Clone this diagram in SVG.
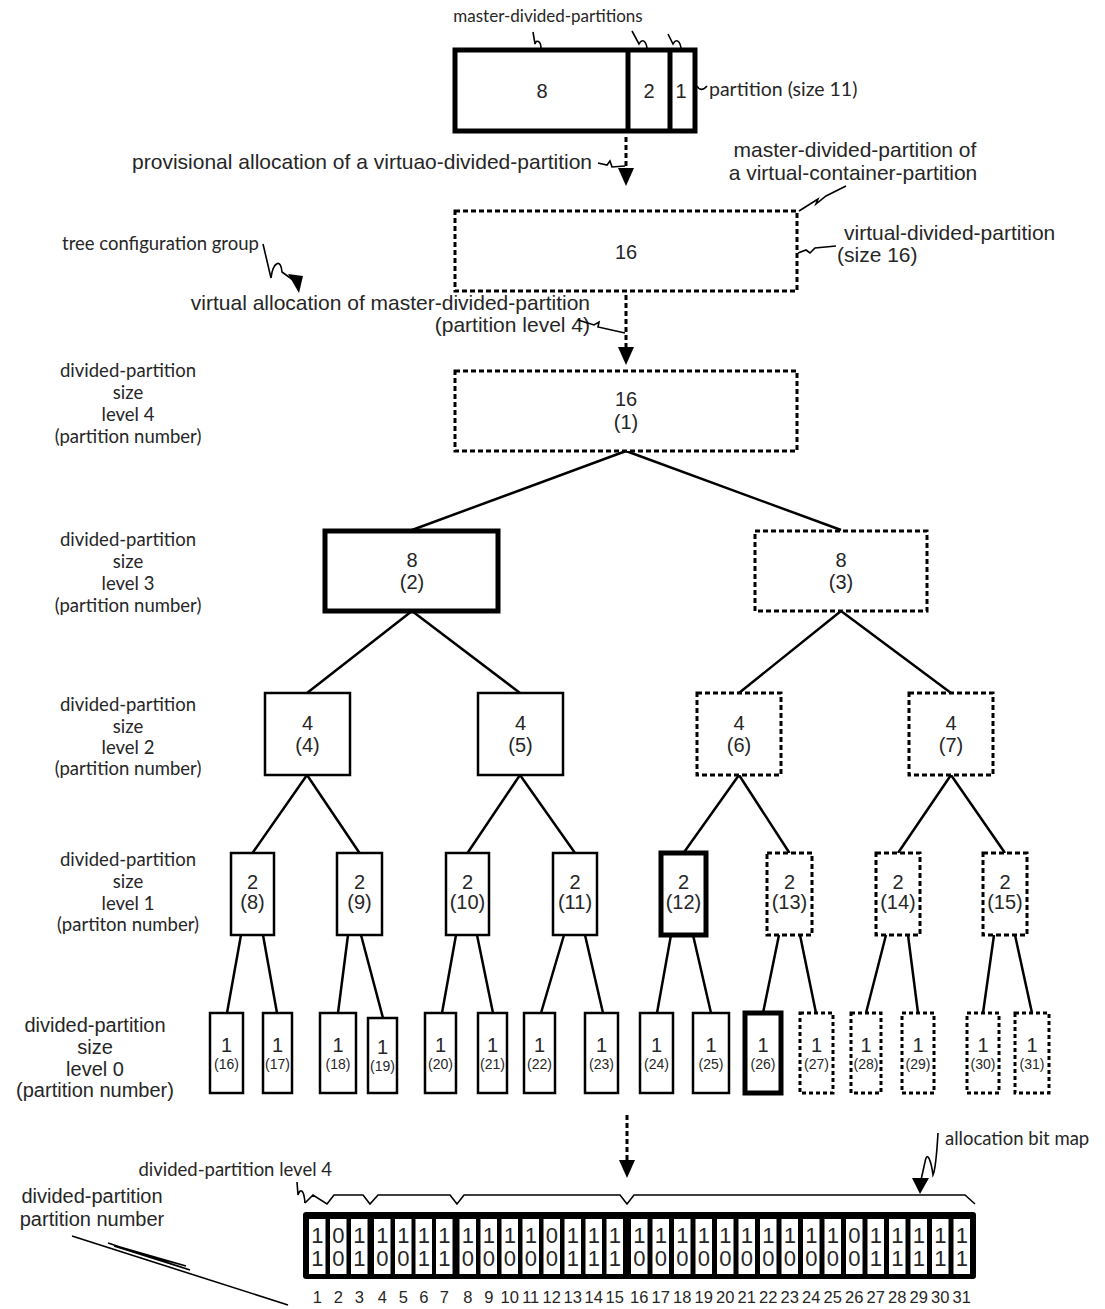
<svg xmlns="http://www.w3.org/2000/svg" width="1105" height="1309" viewBox="0 0 1105 1309">
<style>
.n{fill:#fff;stroke:#000;stroke-width:2.5}
.tk{stroke-width:5}
.ds{stroke-dasharray:5 3;stroke-width:3}
.ds0{stroke-dasharray:4 3;stroke-width:3}
.e{stroke:#000;stroke-width:2.5;fill:none}
.da{stroke:#000;stroke-width:3;stroke-dasharray:5 3;fill:none}
.sq{stroke:#000;stroke-width:1.6;fill:none}
.a{font-family:"Liberation Sans",Arial,sans-serif;fill:#262626}
.c{font-family:Lato,"Liberation Sans",sans-serif;fill:#262626}
.m{text-anchor:middle}
.r{text-anchor:end}
.f21{font-size:21px}
.f20{font-size:20px}
.f14{font-size:14px}
.lab{font-size:18.5px}
.bit{font-size:22px}
.num{font-size:16.5px}
</style>
<rect width="1105" height="1309" fill="#fff"/>

<!-- top partition -->
<g id="partition">
<rect x="455" y="50" width="240" height="81" fill="#fff" stroke="#000" stroke-width="5"/>
<line x1="628" y1="50" x2="628" y2="131" stroke="#000" stroke-width="5"/>
<line x1="670" y1="50" x2="670" y2="131" stroke="#000" stroke-width="5"/>
<text class="a f20 m" x="542" y="98">8</text>
<text class="a f20 m" x="649" y="98">2</text>
<text class="a f20 m" x="681" y="98">1</text>
</g>
<g id="labels-top">
<text class="c m" font-size="17" x="548" y="22">master-divided-partitions</text>
<path class="sq" d="M541 48 C541 41 536 39 535 44 L533 32"/>
<path class="sq" d="M647 48 C646 41 642 38 639 44 L632 31"/>
<path class="sq" d="M681 48 C680 41 676 38 673 44 L668 34"/>
<text class="c" font-size="19.5" x="709" y="96">partition (size 11)</text>
<path class="sq" d="M697 86 C699 90 703 91 707 86"/>
<text class="a f21 r" x="592" y="169">provisional allocation of a virtuao-divided-partition</text>
<path class="sq" d="M598 163 L607 165 L610 161 L612 167 L625 166"/>
<text class="a f21 m" x="855" y="157">master-divided-partition of</text>
<text class="a f21 m" x="853" y="180">a virtual-container-partition</text>
<path class="sq" d="M799 211 L818 199 L816 204 L826 196 L846 186"/>
<text class="a f21" x="844" y="240">virtual-divided-partition</text>
<text class="a f21" x="837" y="262">(size 16)</text>
<path class="sq" d="M798 253 L806 250 L810 253 L815 248 L836 246"/>
<text class="c lab" x="62" y="250">tree configuration group</text>
<path class="sq" d="M263 244 L271 278 C273 262 281 258 282 272 L293 280"/>
<polygon points="288,274 303,276 299,293"/>
<text class="a f21 r" x="590" y="310">virtual allocation of master-divided-partition</text>
<text class="a f21 r" x="590" y="332">(partition level 4)</text>
<path class="sq" d="M578 320 L594 325 L599 322 L598 327 L625 333"/>
</g>

<!-- level labels -->
<g id="level-labels">
<text class="c lab m" x="128" y="377">divided-partition</text>
<text class="c lab m" x="128" y="399">size</text>
<text class="c lab m" x="128" y="421">level 4</text>
<text class="c lab m" x="128" y="443">(partition number)</text>
<text class="c lab m" x="128" y="546">divided-partition</text>
<text class="c lab m" x="128" y="568">size</text>
<text class="c lab m" x="128" y="590">level 3</text>
<text class="c lab m" x="128" y="612">(partition number)</text>
<text class="c lab m" x="128" y="711">divided-partition</text>
<text class="c lab m" x="128" y="733">size</text>
<text class="c lab m" x="128" y="754">level 2</text>
<text class="c lab m" x="128" y="775">(partition number)</text>
<text class="c lab m" x="128" y="866">divided-partition</text>
<text class="c lab m" x="128" y="888">size</text>
<text class="c lab m" x="128" y="910">level 1</text>
<text class="c lab m" x="128" y="931">(partiton number)</text>
<text class="a f20 m" x="95" y="1032">divided-partition</text>
<text class="a f20 m" x="95" y="1054">size</text>
<text class="a f20 m" x="95" y="1076">level 0</text>
<text class="a f20 m" x="95" y="1097">(partition number)</text>
</g>

<!-- connectors -->
<g id="connectors">
<line class="da" x1="626" y1="137" x2="626" y2="168"/>
<polygon points="618,168 634,168 626,186"/>
<line class="da" x1="626" y1="295" x2="626" y2="347"/>
<polygon points="618,347 634,347 626,365"/>
<line class="da" x1="627" y1="1115" x2="627" y2="1160"/>
<polygon points="619,1160 635,1160 627,1178"/>
<path class="e" d="M626 451 L412 530 M626 451 L841 530"/>
<path class="e" d="M412 611 L307 693 M412 611 L520 693 M841 611 L739 693 M841 611 L951 693"/>
<path class="e" d="M307 775 L252.5 853 M307 775 L359.5 853 M520 775 L467.5 853 M520 775 L575 853 M739 775 L683.5 853 M739 775 L789.5 853 M951 775 L898 853 M951 775 L1005 853"/>
<path class="e" d="M241 935 L227 1013 M263 935 L277 1013 M348 935 L338 1013 M361 935 L383 1018 M456 935 L442 1013 M477 935 L493 1013 M564 935 L541 1013 M585 935 L603 1013 M671 935 L657 1013 M693 935 L711 1013 M779 935 L763 1013 M800 935 L816 1013 M886 935 L866 1013 M908 935 L918 1013 M994 935 L983 1013 M1015 935 L1032 1013"/>
</g>

<!-- virtual nodes -->
<g id="virtual-16">
<rect class="n ds" x="455" y="211" width="342" height="80"/>
<text class="a f20 m" x="626" y="259">16</text>
</g>
<g id="n1">
<rect class="n ds" x="455" y="371" width="342" height="80"/>
<text class="a f20 m" x="626" y="406">16</text>
<text class="a f20 m" x="626" y="429">(1)</text>
</g>
<g id="n2">
<rect class="n tk" x="325" y="531" width="173" height="80"/>
<text class="a f20 m" x="412" y="567">8</text>
<text class="a f20 m" x="412" y="589">(2)</text>
</g>
<g id="n3">
<rect class="n ds" x="755" y="531" width="172" height="80"/>
<text class="a f20 m" x="841" y="567">8</text>
<text class="a f20 m" x="841" y="589">(3)</text>
</g>
<g id="n4"><rect class="n" x="265" y="693" width="85" height="82"/><text class="a f20 m" x="307.5" y="730">4</text><text class="a f20 m" x="307.5" y="752">(4)</text></g>
<g id="n5"><rect class="n" x="478" y="693" width="85" height="82"/><text class="a f20 m" x="520.5" y="730">4</text><text class="a f20 m" x="520.5" y="752">(5)</text></g>
<g id="n6"><rect class="n ds" x="697" y="693" width="84" height="82"/><text class="a f20 m" x="739" y="730">4</text><text class="a f20 m" x="739" y="752">(6)</text></g>
<g id="n7"><rect class="n ds" x="909" y="693" width="84" height="82"/><text class="a f20 m" x="951" y="730">4</text><text class="a f20 m" x="951" y="752">(7)</text></g>

<g id="n8"><rect class="n" x="231" y="853" width="43" height="82"/><text class="a f20 m" x="252.5" y="889">2</text><text class="a f20 m" x="252.5" y="909">(8)</text></g>
<g id="n9"><rect class="n" x="337" y="853" width="45" height="82"/><text class="a f20 m" x="359.5" y="889">2</text><text class="a f20 m" x="359.5" y="909">(9)</text></g>
<g id="n10"><rect class="n" x="446" y="853" width="43" height="82"/><text class="a f20 m" x="467.5" y="889">2</text><text class="a f20 m" x="467.5" y="909">(10)</text></g>
<g id="n11"><rect class="n" x="553" y="853" width="44" height="82"/><text class="a f20 m" x="575" y="889">2</text><text class="a f20 m" x="575" y="909">(11)</text></g>
<g id="n12"><rect class="n tk" x="661" y="853" width="45" height="82"/><text class="a f20 m" x="683.5" y="889">2</text><text class="a f20 m" x="683.5" y="909">(12)</text></g>
<g id="n13"><rect class="n ds" x="767" y="853" width="45" height="82"/><text class="a f20 m" x="789.5" y="889">2</text><text class="a f20 m" x="789.5" y="909">(13)</text></g>
<g id="n14"><rect class="n ds" x="876" y="853" width="44" height="82"/><text class="a f20 m" x="898" y="889">2</text><text class="a f20 m" x="898" y="909">(14)</text></g>
<g id="n15"><rect class="n ds" x="983" y="853" width="44" height="82"/><text class="a f20 m" x="1005" y="889">2</text><text class="a f20 m" x="1005" y="909">(15)</text></g>

<g id="n16"><rect class="n" x="210" y="1013" width="33" height="80"/><text class="a f20 m" x="226.5" y="1052">1</text><text class="a f14 m" x="226.5" y="1069">(16)</text></g>
<g id="n17"><rect class="n" x="263" y="1013" width="29" height="80"/><text class="a f20 m" x="277.5" y="1052">1</text><text class="a f14 m" x="277.5" y="1069">(17)</text></g>
<g id="n18"><rect class="n" x="320" y="1013" width="36" height="80"/><text class="a f20 m" x="338" y="1052">1</text><text class="a f14 m" x="338" y="1069">(18)</text></g>
<g id="n19"><rect class="n" x="368" y="1018" width="29" height="75"/><text class="a f20 m" x="382.5" y="1054">1</text><text class="a f14 m" x="382.5" y="1071">(19)</text></g>
<g id="n20"><rect class="n" x="425" y="1013" width="31" height="80"/><text class="a f20 m" x="440.5" y="1052">1</text><text class="a f14 m" x="440.5" y="1069">(20)</text></g>
<g id="n21"><rect class="n" x="478" y="1013" width="29" height="80"/><text class="a f20 m" x="492.5" y="1052">1</text><text class="a f14 m" x="492.5" y="1069">(21)</text></g>
<g id="n22"><rect class="n" x="524" y="1013" width="31" height="80"/><text class="a f20 m" x="539.5" y="1052">1</text><text class="a f14 m" x="539.5" y="1069">(22)</text></g>
<g id="n23"><rect class="n" x="585" y="1013" width="33" height="80"/><text class="a f20 m" x="601.5" y="1052">1</text><text class="a f14 m" x="601.5" y="1069">(23)</text></g>
<g id="n24"><rect class="n" x="640" y="1013" width="33" height="80"/><text class="a f20 m" x="656.5" y="1052">1</text><text class="a f14 m" x="656.5" y="1069">(24)</text></g>
<g id="n25"><rect class="n" x="693" y="1013" width="36" height="80"/><text class="a f20 m" x="711" y="1052">1</text><text class="a f14 m" x="711" y="1069">(25)</text></g>
<g id="n26"><rect class="n tk" x="745" y="1013" width="36" height="80"/><text class="a f20 m" x="763" y="1052">1</text><text class="a f14 m" x="763" y="1069">(26)</text></g>
<g id="n27"><rect class="n ds0" x="800" y="1013" width="33" height="80"/><text class="a f20 m" x="816.5" y="1052">1</text><text class="a f14 m" x="816.5" y="1069">(27)</text></g>
<g id="n28"><rect class="n ds0" x="851" y="1013" width="30" height="80"/><text class="a f20 m" x="866" y="1052">1</text><text class="a f14 m" x="866" y="1069">(28)</text></g>
<g id="n29"><rect class="n ds0" x="902" y="1013" width="32" height="80"/><text class="a f20 m" x="918" y="1052">1</text><text class="a f14 m" x="918" y="1069">(29)</text></g>
<g id="n30"><rect class="n ds0" x="967" y="1013" width="32" height="80"/><text class="a f20 m" x="983" y="1052">1</text><text class="a f14 m" x="983" y="1069">(30)</text></g>
<g id="n31"><rect class="n ds0" x="1015" y="1013" width="34" height="80"/><text class="a f20 m" x="1032" y="1052">1</text><text class="a f14 m" x="1032" y="1069">(31)</text></g>

<!-- bitmap labels -->
<g id="bitmap-labels">
<text class="c lab" x="945" y="1145">allocation bit map</text>
<path class="sq" d="M938 1133 C937 1150 936 1168 933 1175 C931 1160 927 1150 925 1162 L921 1180"/>
<polygon points="912,1178 929,1178 920,1194"/>
<text class="c lab r" x="332" y="1176">divided-partition level 4</text>
<path class="sq" d="M297 1182 L298 1195 C300 1188 304 1189 305 1203"/>
<path class="sq" stroke-width="2" d="M305 1203 L313 1195 L327 1204 L334 1195 L363 1195 L370 1204 L378 1195 L450 1195 L457 1204 L464 1195 L620 1195 L627 1204 L634 1195 L965 1195 L975 1204"/>
<text class="a f20 m" x="92" y="1203">divided-partition</text>
<text class="a f20 m" x="92" y="1226">partition number</text>
<path class="sq" d="M72 1236 L288 1305"/>
<path class="sq" d="M108 1243 L190 1270 L114 1246 L186 1266 L120 1247"/>
</g>

<!-- bitmap -->
<g id="bitmap">
<rect x="303" y="1212" width="673" height="67" rx="3" fill="#000"/>
<g fill="#fff">
<rect x="309" y="1219" width="16.5" height="55"/>
<rect x="330" y="1219" width="16.5" height="55"/>
<rect x="351" y="1219" width="16.5" height="55"/>
<rect x="374" y="1219" width="16.5" height="55"/>
<rect x="395" y="1219" width="16.5" height="55"/>
<rect x="415.5" y="1219" width="16.5" height="55"/>
<rect x="436" y="1219" width="16.5" height="55"/>
<rect x="459.5" y="1219" width="16.5" height="55"/>
<rect x="480.5" y="1219" width="16.5" height="55"/>
<rect x="501.5" y="1219" width="16.5" height="55"/>
<rect x="522.5" y="1219" width="16.5" height="55"/>
<rect x="543.5" y="1219" width="16.5" height="55"/>
<rect x="564.5" y="1219" width="16.5" height="55"/>
<rect x="585.5" y="1219" width="16.5" height="55"/>
<rect x="606.5" y="1219" width="16.5" height="55"/>
<rect x="631" y="1219" width="16.5" height="55"/>
<rect x="652.5" y="1219" width="16.5" height="55"/>
<rect x="674" y="1219" width="16.5" height="55"/>
<rect x="695.5" y="1219" width="16.5" height="55"/>
<rect x="717" y="1219" width="16.5" height="55"/>
<rect x="738.5" y="1219" width="16.5" height="55"/>
<rect x="760" y="1219" width="16.5" height="55"/>
<rect x="781.5" y="1219" width="16.5" height="55"/>
<rect x="803" y="1219" width="16.5" height="55"/>
<rect x="824.5" y="1219" width="16.5" height="55"/>
<rect x="846" y="1219" width="16.5" height="55"/>
<rect x="867.5" y="1219" width="16.5" height="55"/>
<rect x="889" y="1219" width="16.5" height="55"/>
<rect x="910.5" y="1219" width="16.5" height="55"/>
<rect x="932" y="1219" width="16.5" height="55"/>
<rect x="953.5" y="1219" width="16.5" height="55"/>
</g>
<text class="a bit m"><tspan x="317.25" y="1243">1</tspan><tspan x="338.25" y="1243">0</tspan><tspan x="359.25" y="1243">1</tspan><tspan x="382.25" y="1243">1</tspan><tspan x="403.25" y="1243">1</tspan><tspan x="423.75" y="1243">1</tspan><tspan x="444.25" y="1243">1</tspan><tspan x="467.75" y="1243">1</tspan><tspan x="488.75" y="1243">1</tspan><tspan x="509.75" y="1243">1</tspan><tspan x="530.75" y="1243">1</tspan><tspan x="551.75" y="1243">0</tspan><tspan x="572.75" y="1243">1</tspan><tspan x="593.75" y="1243">1</tspan><tspan x="614.75" y="1243">1</tspan><tspan x="639.25" y="1243">1</tspan><tspan x="660.75" y="1243">1</tspan><tspan x="682.25" y="1243">1</tspan><tspan x="703.75" y="1243">1</tspan><tspan x="725.25" y="1243">1</tspan><tspan x="746.75" y="1243">1</tspan><tspan x="768.25" y="1243">1</tspan><tspan x="789.75" y="1243">1</tspan><tspan x="811.25" y="1243">1</tspan><tspan x="832.75" y="1243">1</tspan><tspan x="854.25" y="1243">0</tspan><tspan x="875.75" y="1243">1</tspan><tspan x="897.25" y="1243">1</tspan><tspan x="918.75" y="1243">1</tspan><tspan x="940.25" y="1243">1</tspan><tspan x="961.75" y="1243">1</tspan></text>
<text class="a bit m"><tspan x="317.25" y="1266">1</tspan><tspan x="338.25" y="1266">0</tspan><tspan x="359.25" y="1266">1</tspan><tspan x="382.25" y="1266">0</tspan><tspan x="403.25" y="1266">0</tspan><tspan x="423.75" y="1266">1</tspan><tspan x="444.25" y="1266">1</tspan><tspan x="467.75" y="1266">0</tspan><tspan x="488.75" y="1266">0</tspan><tspan x="509.75" y="1266">0</tspan><tspan x="530.75" y="1266">0</tspan><tspan x="551.75" y="1266">0</tspan><tspan x="572.75" y="1266">1</tspan><tspan x="593.75" y="1266">1</tspan><tspan x="614.75" y="1266">1</tspan><tspan x="639.25" y="1266">0</tspan><tspan x="660.75" y="1266">0</tspan><tspan x="682.25" y="1266">0</tspan><tspan x="703.75" y="1266">0</tspan><tspan x="725.25" y="1266">0</tspan><tspan x="746.75" y="1266">0</tspan><tspan x="768.25" y="1266">0</tspan><tspan x="789.75" y="1266">0</tspan><tspan x="811.25" y="1266">0</tspan><tspan x="832.75" y="1266">0</tspan><tspan x="854.25" y="1266">0</tspan><tspan x="875.75" y="1266">1</tspan><tspan x="897.25" y="1266">1</tspan><tspan x="918.75" y="1266">1</tspan><tspan x="940.25" y="1266">1</tspan><tspan x="961.75" y="1266">1</tspan></text>
<text class="a num m"><tspan x="317.25" y="1303">1</tspan><tspan x="338.25" y="1303">2</tspan><tspan x="359.25" y="1303">3</tspan><tspan x="382.25" y="1303">4</tspan><tspan x="403.25" y="1303">5</tspan><tspan x="423.75" y="1303">6</tspan><tspan x="444.25" y="1303">7</tspan><tspan x="467.75" y="1303">8</tspan><tspan x="488.75" y="1303">9</tspan><tspan x="509.75" y="1303">10</tspan><tspan x="530.75" y="1303">11</tspan><tspan x="551.75" y="1303">12</tspan><tspan x="572.75" y="1303">13</tspan><tspan x="593.75" y="1303">14</tspan><tspan x="614.75" y="1303">15</tspan><tspan x="639.25" y="1303">16</tspan><tspan x="660.75" y="1303">17</tspan><tspan x="682.25" y="1303">18</tspan><tspan x="703.75" y="1303">19</tspan><tspan x="725.25" y="1303">20</tspan><tspan x="746.75" y="1303">21</tspan><tspan x="768.25" y="1303">22</tspan><tspan x="789.75" y="1303">23</tspan><tspan x="811.25" y="1303">24</tspan><tspan x="832.75" y="1303">25</tspan><tspan x="854.25" y="1303">26</tspan><tspan x="875.75" y="1303">27</tspan><tspan x="897.25" y="1303">28</tspan><tspan x="918.75" y="1303">29</tspan><tspan x="940.25" y="1303">30</tspan><tspan x="961.75" y="1303">31</tspan></text>
</g>
</svg>
